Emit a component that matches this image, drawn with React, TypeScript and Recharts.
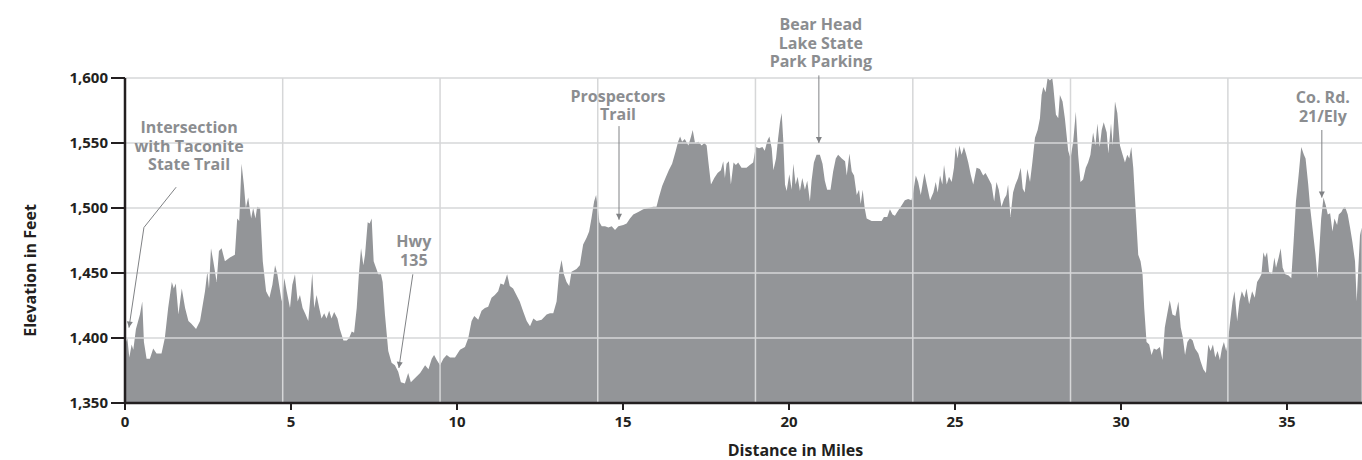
import { AreaChart, Area, XAxis, YAxis, ReferenceLine, ReferenceDot } from "recharts";

// distance along the trail (miles)
const miles = [
  0, 0.03, 0.07, 0.13, 0.2, 0.25, 0.33, 0.45, 0.52, 0.57,
  0.65, 0.75, 0.85, 0.95, 1.1, 1.2, 1.3, 1.41, 1.47, 1.53,
  1.61, 1.71, 1.81, 1.91, 2.0, 2.14, 2.26, 2.41, 2.48, 2.53,
  2.59, 2.66, 2.76, 2.83, 2.91, 3.01, 3.16, 3.31, 3.38, 3.44,
  3.51, 3.58, 3.64, 3.71, 3.8, 3.86, 3.93, 3.98, 4.07, 4.15,
  4.25, 4.35, 4.44, 4.52, 4.59, 4.64, 4.72, 4.8, 4.87, 4.97,
  5.04, 5.12, 5.2, 5.27, 5.35, 5.44, 5.52, 5.59, 5.64, 5.7,
  5.77, 5.85, 5.92, 6.0, 6.07, 6.15, 6.22, 6.3, 6.4, 6.47,
  6.58, 6.68, 6.75, 6.83, 6.9, 6.98, 7.05, 7.11, 7.18, 7.23,
  7.31, 7.37, 7.43, 7.49, 7.56, 7.63, 7.71, 7.76, 7.83, 7.93,
  8.03, 8.13, 8.23, 8.31, 8.43, 8.53, 8.61, 8.73, 8.89, 9.04,
  9.14, 9.24, 9.31, 9.39, 9.49, 9.59, 9.69, 9.79, 9.94, 10.09,
  10.24, 10.34, 10.44, 10.52, 10.64, 10.74, 10.84, 10.94, 11.04, 11.14,
  11.24, 11.31, 11.41, 11.51, 11.59, 11.69, 11.79, 11.89, 12.0, 12.1,
  12.2, 12.3, 12.4, 12.55, 12.7, 12.8, 12.9, 13.0, 13.08, 13.15,
  13.22, 13.3, 13.38, 13.45, 13.6, 13.7, 13.8, 13.9, 13.98, 14.05,
  14.13, 14.19, 14.24, 14.29, 14.36, 14.46, 14.56, 14.66, 14.76, 14.86,
  15.01, 15.11, 15.21, 15.31, 15.46, 15.61, 15.76, 15.91, 16.01, 16.08,
  16.18, 16.28, 16.38, 16.48, 16.58, 16.66, 16.72, 16.78, 16.86, 16.97,
  17.05, 17.1, 17.17, 17.27, 17.37, 17.45, 17.52, 17.57, 17.65, 17.75,
  17.85, 17.95, 18.02, 18.07, 18.12, 18.19, 18.25, 18.33, 18.4, 18.47,
  18.57, 18.62, 18.72, 18.82, 18.92, 19.0, 19.1, 19.2, 19.27, 19.35,
  19.41, 19.48, 19.53, 19.61, 19.67, 19.73, 19.78, 19.83, 19.88, 19.93,
  20.01, 20.08, 20.13, 20.2, 20.26, 20.33, 20.4, 20.48, 20.55, 20.63,
  20.68, 20.75, 20.83, 20.93, 21.01, 21.08, 21.15, 21.25, 21.33, 21.41,
  21.48, 21.59, 21.69, 21.74, 21.82, 21.89, 21.96, 22.04, 22.11, 22.16,
  22.22, 22.28, 22.34, 22.49, 22.64, 22.79, 22.86, 22.96, 23.04, 23.12,
  23.19, 23.26, 23.34, 23.39, 23.49, 23.59, 23.69, 23.74, 23.82, 23.89,
  23.97, 24.08, 24.15, 24.25, 24.35, 24.42, 24.48, 24.55, 24.62, 24.67,
  24.75, 24.82, 24.9, 24.97, 25.02, 25.08, 25.13, 25.2, 25.27, 25.33,
  25.4, 25.48, 25.55, 25.65, 25.75, 25.85, 25.92, 26.0, 26.1, 26.18,
  26.25, 26.32, 26.4, 26.48, 26.55, 26.6, 26.67, 26.75, 26.82, 26.9,
  26.98, 27.04, 27.1, 27.18, 27.26, 27.33, 27.41, 27.49, 27.56, 27.61,
  27.66, 27.73, 27.79, 27.86, 27.93, 27.96, 28.04, 28.11, 28.16, 28.24,
  28.31, 28.41, 28.48, 28.56, 28.64, 28.71, 28.78, 28.86, 28.94, 29.01,
  29.08, 29.16, 29.23, 29.29, 29.36, 29.42, 29.48, 29.57, 29.62, 29.7,
  29.75, 29.82, 29.89, 29.97, 30.05, 30.12, 30.19, 30.25, 30.31, 30.37,
  30.45, 30.52, 30.59, 30.65, 30.7, 30.77, 30.85, 30.92, 30.99, 31.07,
  31.17, 31.25, 31.32, 31.39, 31.47, 31.55, 31.64, 31.73, 31.8, 31.86,
  31.93, 32.0, 32.08, 32.16, 32.23, 32.33, 32.4, 32.48, 32.56, 32.63,
  32.7, 32.77, 32.84, 32.91, 32.98, 33.04, 33.1, 33.17, 33.22, 33.29,
  33.36, 33.42, 33.5, 33.57, 33.64, 33.72, 33.78, 33.86, 33.95, 34.03,
  34.1, 34.17, 34.23, 34.29, 34.34, 34.4, 34.46, 34.55, 34.62, 34.67,
  34.75, 34.81, 34.87, 34.95, 35.05, 35.13, 35.2, 35.27, 35.35, 35.43,
  35.51, 35.56, 35.64, 35.7, 35.78, 35.86, 35.92, 35.97, 36.03, 36.1,
  36.17, 36.23, 36.3, 36.37, 36.43, 36.51, 36.56, 36.64, 36.7, 36.75,
  36.83, 36.9, 36.97, 37.05, 37.1, 37.15, 37.2, 37.25,
];

// elevation (feet), same order as miles
const elevationFt = [
  1392, 1397, 1400, 1385, 1395, 1391, 1407, 1418, 1428, 1397,
  1384, 1384, 1392, 1388, 1388, 1400, 1423, 1443, 1438, 1442,
  1418, 1438, 1423, 1413, 1411, 1407, 1413, 1436, 1451, 1438,
  1469, 1459, 1443, 1467, 1469, 1459, 1462, 1464, 1492, 1490,
  1534, 1518, 1500, 1508, 1492, 1500, 1492, 1501, 1500, 1459,
  1436, 1431, 1441, 1456, 1449, 1441, 1428, 1446, 1436, 1423,
  1441, 1449, 1428, 1433, 1423, 1418, 1413, 1433, 1450, 1423,
  1433, 1423, 1415, 1419, 1415, 1421, 1415, 1420, 1415, 1407,
  1398, 1398, 1400, 1405, 1404, 1423, 1451, 1469, 1456, 1464,
  1489, 1488, 1492, 1459, 1454, 1449, 1449, 1443, 1418, 1390,
  1381, 1379, 1374, 1366, 1365, 1373, 1366, 1369, 1373, 1379,
  1376, 1384, 1387, 1383, 1379, 1384, 1387, 1385, 1385, 1391,
  1393, 1400, 1413, 1417, 1414, 1421, 1423, 1424, 1431, 1433,
  1436, 1442, 1441, 1449, 1440, 1438, 1433, 1428, 1420, 1413,
  1409, 1415, 1413, 1414, 1418, 1419, 1419, 1428, 1451, 1460,
  1449, 1443, 1440, 1451, 1453, 1456, 1472, 1477, 1482, 1492,
  1505, 1510, 1500, 1489, 1486, 1486, 1485, 1486, 1483, 1486,
  1487, 1488, 1492, 1495, 1497, 1499, 1500, 1501, 1501, 1508,
  1517, 1523, 1529, 1534, 1543, 1551, 1555, 1551, 1553, 1548,
  1555, 1560, 1550, 1551, 1548, 1550, 1548, 1536, 1518, 1523,
  1527, 1529, 1536, 1523, 1534, 1536, 1518, 1535, 1533, 1535,
  1531, 1531, 1531, 1533, 1535, 1547, 1546, 1547, 1544, 1552,
  1555, 1546, 1529, 1538, 1553, 1566, 1573, 1551, 1518, 1513,
  1526, 1514, 1534, 1518, 1524, 1513, 1523, 1514, 1521, 1505,
  1521, 1535, 1541, 1541, 1534, 1521, 1514, 1514, 1528, 1538,
  1541, 1538, 1536, 1525, 1542, 1528, 1525, 1510, 1514, 1503,
  1514, 1500, 1492, 1490, 1490, 1490, 1493, 1493, 1499, 1495,
  1494, 1497, 1500, 1502, 1506, 1507, 1506, 1512, 1525, 1520,
  1510, 1527, 1518, 1506, 1512, 1520, 1512, 1525, 1518, 1533,
  1518, 1524, 1520, 1531, 1547, 1538, 1548, 1541, 1547, 1542,
  1535, 1525, 1518, 1531, 1530, 1525, 1527, 1523, 1518, 1505,
  1520, 1514, 1501, 1507, 1510, 1518, 1493, 1512, 1518, 1523,
  1531, 1515, 1512, 1530, 1520, 1535, 1554, 1560, 1569, 1587,
  1593, 1589, 1600, 1598, 1600, 1594, 1572, 1569, 1587, 1582,
  1569, 1544, 1538, 1551, 1574, 1541, 1520, 1522, 1531, 1535,
  1541, 1558, 1548, 1565, 1547, 1560, 1566, 1558, 1542, 1565,
  1548, 1582, 1573, 1548, 1541, 1535, 1541, 1538, 1547, 1531,
  1495, 1464, 1459, 1449, 1423, 1397, 1395, 1387, 1392, 1391,
  1393, 1383, 1408, 1418, 1429, 1418, 1417, 1428, 1408, 1401,
  1387, 1397, 1400, 1398, 1392, 1388, 1382, 1376, 1373, 1395,
  1390, 1395, 1385, 1390, 1383, 1392, 1397, 1390, 1397, 1413,
  1428, 1436, 1413, 1428, 1436, 1431, 1438, 1426, 1436, 1431,
  1443, 1446, 1449, 1466, 1462, 1466, 1451, 1449, 1462, 1454,
  1462, 1469, 1454, 1449, 1448, 1446, 1474, 1505, 1525, 1547,
  1541, 1538, 1518, 1500, 1482, 1464, 1446, 1466, 1492, 1508,
  1502, 1495, 1496, 1482, 1492, 1487, 1495, 1497, 1500, 1501,
  1495, 1485, 1474, 1459, 1428, 1454, 1479, 1485,
];

const xTicks = [0, 5, 10, 15, 20, 25, 30, 35];
const yTicks = [1350, 1400, 1450, 1500, 1550, 1600];
const gridMiles = [4.75, 9.49, 14.24, 18.99, 23.73, 28.48, 33.22];
const gridFeet = [1400, 1450, 1500, 1550, 1600];

// place-name callouts: text lines, text anchor (mile, ft), arrow path (mile, ft)
const calloutText = [
  ["Intersection", "with Taconite", "State Trail"],
  ["Hwy", "135"],
  ["Prospectors", "Trail"],
  ["Bear Head", "Lake State", "Park Parking"],
  ["Co. Rd.", "21/Ely"],
];
const calloutAt = [
  [1.93, 1562],
  [8.7, 1474],
  [14.85, 1586],
  [20.96, 1641],
  [36.08, 1585],
];
const calloutArrows = [
  [[1.54, 1516], [0.57, 1485], [0.12, 1408]],
  [[8.67, 1449], [8.25, 1377]],
  [[14.88, 1563], [14.88, 1491]],
  [[20.9, 1602], [20.9, 1550]],
  [[36.05, 1560], [36.05, 1508]],
];

const data = miles.map((m, i) => ({ mile: m, ft: elevationFt[i] }));

const INK = "#231f20";
const NOTE = "#8b8d90";
const FONT = "'Open Sans', sans-serif";

const arrowShape = (withHead: boolean) => (p: any) => {
  const { x1, y1, x2, y2 } = p;
  let head = null;
  if (withHead) {
    const len = Math.hypot(x2 - x1, y2 - y1) || 1;
    const ux = (x2 - x1) / len;
    const uy = (y2 - y1) / len;
    const bx = x2 - ux * 6;
    const by = y2 - uy * 6;
    head = (
      <polygon
        points={`${x2},${y2} ${bx - uy * 3},${by + ux * 3} ${bx + uy * 3},${by - ux * 3}`}
        fill="#808285"
      />
    );
  }
  return (
    <g>
      <line x1={x1} y1={y1} x2={x2} y2={y2} stroke="#808285" strokeWidth={1} />
      {head}
    </g>
  );
};

const calloutShape = (lines: string[]) => (p: any) => (
  <text
    textAnchor="middle"
    fill={NOTE}
    fontSize={16}
    fontWeight={700}
    fontFamily={FONT}
  >
    {lines.map((l, i) => (
      <tspan key={i} x={p.cx} y={p.cy + i * 18.5} dy="0.35em">
        {l}
      </tspan>
    ))}
  </text>
);

const YTitle = (props: any) => {
  const { x, y, height } = props.viewBox;
  const cx = x + 30;
  const cy = y + height / 2 + 30;
  return (
    <text
      transform={`translate(${cx},${cy}) rotate(-90)`}
      textAnchor="middle"
      dy="0.35em"
      fill={INK}
      fontSize={16}
      fontWeight={700}
      fontFamily={FONT}
    >
      Elevation in Feet
    </text>
  );
};

const XTitle = (props: any) => {
  const { x, y, width } = props.viewBox;
  return (
    <text
      x={x + width / 2 + 52}
      y={y + 47}
      dy="0.35em"
      textAnchor="middle"
      fill={INK}
      fontSize={16}
      fontWeight={700}
      fontFamily={FONT}
    >
      Distance in Miles
    </text>
  );
};

const tickStyle = { fill: INK, fontSize: 15, fontWeight: 700, fontFamily: FONT };

export default function App() {
  return (
    <div style={{ position: "absolute", left: 0, top: 0, width: 1362, height: 460, background: "#fff" }}>
      <AreaChart
        width={1362}
        height={460}
        data={data}
        margin={{ top: 78, right: 0, bottom: 0, left: 0 }}
        style={{ fontFamily: FONT }}
      >
        <XAxis
          dataKey="mile"
          type="number"
          domain={[0, 37.26]}
          allowDataOverflow
          ticks={xTicks}
          height={57}
          tickSize={7}
          tickMargin={6}
          axisLine={{ stroke: INK, strokeWidth: 2.5 }}
          tickLine={{ stroke: INK, strokeWidth: 2 }}
          tick={tickStyle}
          label={<XTitle />}
        />
        <YAxis
          type="number"
          domain={[1350, 1600]}
          allowDataOverflow
          ticks={yTicks}
          width={125}
          tickSize={14}
          tickMargin={3}
          tickFormatter={(v: number) => v.toLocaleString("en-US")}
          axisLine={{ stroke: INK, strokeWidth: 2.5 }}
          tickLine={{ stroke: INK, strokeWidth: 2 }}
          tick={tickStyle}
          label={<YTitle />}
        />
        <Area
          type="linear"
          dataKey="ft"
          fill="#939598"
          fillOpacity={1}
          stroke="none"
          isAnimationActive={false}
        />
        {gridFeet.map((f) => (
          <ReferenceLine key={`h${f}`} y={f} stroke="#d6d7d8" strokeWidth={1.5} />
        ))}
        {gridMiles.map((m) => (
          <ReferenceLine key={`v${m}`} x={m} stroke="#d6d7d8" strokeWidth={1.5} />
        ))}
        {calloutArrows.map((path, i) =>
          path.slice(1).map((pt, j) => (
            <ReferenceLine
              key={`a${i}-${j}`}
              segment={[
                { x: path[j][0], y: path[j][1] },
                { x: pt[0], y: pt[1] },
              ]}
              ifOverflow="visible"
              shape={arrowShape(j === path.length - 2)}
            />
          ))
        )}
        {calloutText.map((lines, i) => (
          <ReferenceDot
            key={`t${i}`}
            x={calloutAt[i][0]}
            y={calloutAt[i][1]}
            r={0}
            ifOverflow="visible"
            shape={calloutShape(lines)}
          />
        ))}
      </AreaChart>
    </div>
  );
}
